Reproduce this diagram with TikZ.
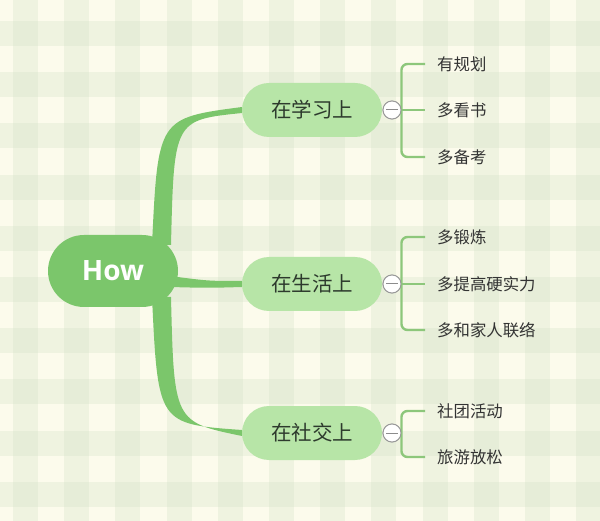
\documentclass[tikz,border=0pt]{standalone}
\usepackage{fontspec}
\setmainfont{Noto Sans CJK SC}
\newfontfamily\howfont{Open Sans}
\usetikzlibrary{shapes.misc}
\definecolor{cream}{RGB}{252,251,236}
\definecolor{bandgreen}{RGB}{214,227,200}
\definecolor{howgreen}{RGB}{123,198,107}
\definecolor{branchgreen}{RGB}{183,229,167}
\definecolor{brackgreen}{RGB}{141,199,123}
\definecolor{leaftext}{RGB}{51,51,51}
\definecolor{branchtext}{RGB}{45,58,45}
\tikzset{
  rootbox/.style={rounded rectangle, fill=howgreen, minimum width=130pt, minimum height=72pt, inner sep=0pt, text=white, font=\howfont\bfseries\fontsize{28}{30}\selectfont},
  branchbox/.style={rounded rectangle, fill=branchgreen, minimum width=140pt, minimum height=54pt, inner sep=0pt, text=branchtext, font=\fontsize{20.5}{22}\selectfont},
  leafbox/.style={anchor=west, inner xsep=12pt, inner ysep=0pt, text=leaftext, font=\fontsize{16.4}{18}\selectfont},
  toggle/.style={circle, draw=gray!80, fill=white, line width=0.9pt, minimum size=18pt, inner sep=0pt},
  togglebar/.style={draw=gray!90, line width=1pt},
  bracket/.style={draw=brackgreen, line width=2.4pt, rounded corners=6pt},
  limb/.style={fill=howgreen}
}
\begin{document}
\begin{tikzpicture}[x=1pt,y=-1pt]
\useasboundingbox (0,0) rectangle (600,521);
% background gingham
\fill[cream] (0,0) rectangle (600,521);
\foreach \i in {0,...,11} {
  \fill[bandgreen, opacity=0.32] (13+51.2*\i,0) rectangle +(25,521);
  \fill[bandgreen, opacity=0.32] (0,21+51.2*\i) rectangle +(600,25);
}
% tapered limbs
\fill[limb] (152,245) .. controls (158,118) .. (242,107) -- (242,113) .. controls (174,120) .. (171,245) -- cycle;
\fill[limb] (170,276) .. controls (208,281) .. (242,281) -- (242,287) .. controls (208,288) .. (170,287) -- cycle;
\fill[limb] (152,297) .. controls (158,424) .. (242,430) -- (242,436) .. controls (174,422) .. (171,297) -- cycle;
% nodes
\node[rootbox] (root) at (113,271) {How};
\node[branchbox] (b1) at (312,110) {在学习上};
\node[branchbox] (b2) at (312,284) {在生活上};
\node[branchbox] (b3) at (312,433) {在社交上};
\node[toggle] (c1) at (392,110) {};
\node[toggle] (c2) at (392,284) {};
\node[toggle] (c3) at (392,433) {};
\node[leafbox] (l11) at (425,64) {有规划};
\node[leafbox] (l12) at (425,110) {多看书};
\node[leafbox] (l13) at (425,157) {多备考};
\node[leafbox] (l21) at (425,237) {多锻炼};
\node[leafbox] (l22) at (425,284) {多提高硬实力};
\node[leafbox] (l23) at (425,330) {多和家人联络};
\node[leafbox] (l31) at (425,411) {社团活动};
\node[leafbox] (l32) at (425,457) {旅游放松};
% brackets
\draw[bracket] (l11.west) -| (c1.east) |- (l13.west);
\draw[bracket] (c1.east) -- (l12.west);
\draw[bracket] (l21.west) -| (c2.east) |- (l23.west);
\draw[bracket] (c2.east) -- (l22.west);
\draw[bracket] (l31.west) -| (c3.east) |- (l32.west);
% toggles on top
\node[toggle] at (c1) {};
\node[toggle] at (c2) {};
\node[toggle] at (c3) {};
\draw[togglebar] ([xshift=-6pt]c1.center) -- ([xshift=6pt]c1.center);
\draw[togglebar] ([xshift=-6pt]c2.center) -- ([xshift=6pt]c2.center);
\draw[togglebar] ([xshift=-6pt]c3.center) -- ([xshift=6pt]c3.center);
\end{tikzpicture}
\end{document}
